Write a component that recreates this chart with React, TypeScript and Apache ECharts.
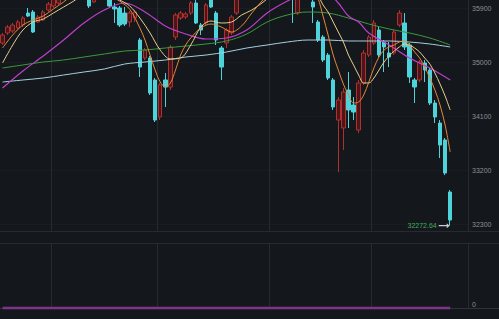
import React, { useEffect, useRef } from "react";
import * as echarts from "echarts";

// ---------- data ----------
const slotCount = 92; // 89 trading days + 3 empty slots on the right
const dayLabels = Array.from({ length: slotCount }, (_, i) => `D${i + 1}`);
const monthStartIdx = [10, 31, 53, 73];

const priceMin = 32167;
const priceMax = 36033;
const tickMin = 32300;
const tickMax = 35900;
const tickStep = 900;

// [open, close, lowest, highest]
const candles: number[][] = [
  [35316, 35450, 35283, 35483],
  [35483, 35583, 35450, 35616],
  [35516, 35616, 35483, 35650],
  [35566, 35666, 35533, 35700],
  [35616, 35733, 35583, 35766],
  [35816, 35766, 35750, 35900],
  [35833, 35500, 35483, 35866],
  [35666, 35750, 35650, 35783],
  [35700, 35833, 35683, 35866],
  [35866, 35966, 35833, 36000],
  [35933, 36066, 35900, 36100],
  [35983, 36116, 35950, 36150],
  [36100, 36180, 36050, 36220],
  [36190, 36260, 36150, 36300],
  [36250, 36210, 36170, 36290],
  [36220, 36300, 36190, 36340],
  [36290, 36250, 36200, 36330],
  [36116, 35933, 35900, 36166],
  [36000, 36120, 35990, 36160],
  [36110, 36180, 36060, 36220],
  [36180, 36140, 36070, 36230],
  [36166, 35933, 35916, 36200],
  [35916, 35883, 35650, 35983],
  [35900, 35616, 35583, 35933],
  [35816, 35633, 35600, 35916],
  [35666, 35816, 35583, 35850],
  [35733, 35833, 35666, 35866],
  [35366, 34916, 34750, 35400],
  [35066, 35200, 35033, 35233],
  [35066, 34483, 34450, 35100],
  [34700, 34033, 34000, 34733],
  [34083, 34616, 34033, 34650],
  [34700, 34583, 34250, 34816],
  [34583, 35250, 34533, 35283],
  [35416, 35783, 35366, 35816],
  [35733, 35816, 35700, 35850],
  [35750, 35800, 35716, 35833],
  [35816, 35983, 35783, 36016],
  [35983, 35650, 35633, 36033],
  [35616, 35533, 35450, 35650],
  [35650, 35950, 35616, 35983],
  [36083, 35916, 35900, 36133],
  [35816, 35366, 35283, 35850],
  [35233, 34916, 34700, 35266],
  [35316, 35533, 35233, 35566],
  [35483, 35750, 35450, 35783],
  [35816, 36083, 35783, 36116],
  [36090, 36180, 36060, 36230],
  [36170, 36250, 36130, 36290],
  [36240, 36200, 36150, 36280],
  [36210, 36300, 36180, 36340],
  [36290, 36360, 36250, 36400],
  [36350, 36310, 36260, 36400],
  [36300, 36380, 36270, 36420],
  [36370, 36330, 36280, 36410],
  [36320, 36400, 36290, 36440],
  [36390, 36350, 36300, 36430],
  [36350, 36120, 35650, 36380],
  [35816, 36200, 35783, 36250],
  [36190, 36280, 36150, 36320],
  [36270, 36160, 36100, 36300],
  [36000, 35916, 35650, 36083],
  [35666, 35366, 35333, 35700],
  [35416, 35033, 35000, 35450],
  [35116, 34733, 34700, 35150],
  [34700, 34250, 34200, 34733],
  [34033, 34366, 33166, 34416],
  [33900, 34500, 33533, 34566],
  [34533, 34200, 33900, 34833],
  [34283, 34166, 34033, 34416],
  [33866, 34650, 33816, 34700],
  [34650, 35150, 34616, 35200],
  [35116, 35416, 35083, 35450],
  [35316, 35650, 35283, 35700],
  [35533, 35116, 35083, 35583],
  [35333, 35250, 34833, 35366],
  [35150, 35083, 34916, 35333],
  [35150, 35500, 35116, 35533],
  [35616, 35816, 35583, 35866],
  [35650, 35250, 35200, 35816],
  [35283, 34750, 34650, 35316],
  [34700, 34583, 34316, 34733],
  [34700, 35000, 34666, 35033],
  [34983, 34866, 34666, 35033],
  [34866, 34316, 34283, 34900],
  [34316, 34083, 33983, 34366],
  [33983, 33616, 33400, 34033],
  [33700, 33150, 33116, 33733],
  [32833, 32366, 32272.64, 32866],
];

// moving-average lines: [dayIndex, price]
const ma5: number[][] = [
  [0, 35233], [2, 35450], [4, 35616], [6, 35700], [8, 35766], [10, 35883], [12, 36000],
  [14, 36133], [16, 36233], [18, 36233], [20, 36200], [22, 36066], [23, 36016], [25, 35880],
  [27, 35566], [28, 35366], [29, 35116], [30, 34866], [31, 34666], [32, 34583], [33, 34650],
  [34, 34866], [35, 35116], [36, 35283], [37, 35400], [39, 35566], [41, 35633], [43, 35583],
  [45, 35500], [47, 35600], [49, 35816], [51, 36016], [53, 36200], [56, 36366], [59, 36366],
  [61, 36233], [62, 36066], [63, 35766], [64, 35450], [65, 35116], [66, 34866], [67, 34633],
  [68, 34450], [69, 34316], [70, 34333], [71, 34450], [72, 34666], [73, 34900], [74, 35083],
  [75, 35200], [76, 35250], [77, 35283], [78, 35333], [79, 35350], [80, 35283], [81, 35166],
  [82, 35066], [83, 34916], [84, 34733], [85, 34533], [86, 34283], [87, 33950], [88, 33500],
];
const ma10: number[][] = [
  [0, 34983], [2, 35283], [4, 35533], [6, 35666], [8, 35716], [10, 35816], [12, 35916],
  [14, 36016], [16, 36133], [18, 36233], [20, 36166], [21, 36116], [23, 36033], [25, 35933],
  [27, 35733], [29, 35483], [31, 35200], [33, 35050], [35, 35066], [37, 35283], [39, 35583],
  [41, 35683], [43, 35650], [45, 35666], [47, 35783], [49, 35866], [51, 35983], [53, 36116],
  [56, 36283], [59, 36333], [61, 36233], [62, 36116], [63, 35950], [64, 35833], [65, 35666],
  [66, 35500], [67, 35333], [68, 35116], [69, 34950], [70, 34783], [71, 34650], [72, 34650],
  [73, 34733], [74, 34866], [75, 35000], [76, 35100], [77, 35183], [78, 35250], [79, 35300],
  [80, 35283], [81, 35233], [82, 35166], [83, 35066], [84, 34966], [85, 34816], [86, 34633],
  [87, 34433], [88, 34200],
];
const ma20: number[][] = [
  [0, 34566], [4, 34850], [8, 35100], [12, 35366], [16, 35650], [20, 35866], [24, 35983],
  [28, 35833], [32, 35600], [36, 35466], [40, 35383], [44, 35400], [48, 35533], [52, 35816],
  [56, 36016], [60, 36166], [64, 36133], [66, 35983], [68, 35766], [70, 35666], [72, 35483],
  [76, 35283], [80, 35066], [84, 34900], [88, 34700],
];
const ma60: number[][] = [
  [0, 34900], [4, 34950], [8, 35000], [12, 35033], [16, 35083], [20, 35133], [24, 35183],
  [28, 35200], [32, 35233], [36, 35266], [40, 35300], [44, 35350], [48, 35466], [52, 35666],
  [56, 35783], [60, 35833], [64, 35816], [68, 35733], [72, 35633], [76, 35550], [80, 35483],
  [84, 35400], [88, 35283],
];
const ma120: number[][] = [
  [0, 34666], [4, 34700], [8, 34733], [12, 34783], [16, 34833], [20, 34883], [24, 34966],
  [28, 35000], [32, 35033], [36, 35083], [40, 35116], [44, 35166], [48, 35233], [52, 35283],
  [56, 35333], [60, 35366], [64, 35366], [68, 35350], [72, 35350], [76, 35350], [80, 35333],
  [84, 35300], [88, 35250],
];

// lower panel indicator (flat at zero)
const lowerValues = [
  0, 0, 0, 0, 0, 0, 0, 0, 0, 0, 0, 0, 0, 0, 0, 0, 0, 0, 0, 0, 0, 0, 0, 0, 0, 0, 0, 0, 0, 0,
  0, 0, 0, 0, 0, 0, 0, 0, 0, 0, 0, 0, 0, 0, 0, 0, 0, 0, 0, 0, 0, 0, 0, 0, 0, 0, 0, 0, 0, 0,
  0, 0, 0, 0, 0, 0, 0, 0, 0, 0, 0, 0, 0, 0, 0, 0, 0, 0, 0, 0, 0, 0, 0, 0, 0, 0, 0, 0, 0,
];

// ---------- styles ----------
const BG = "#14171c";
const GRID_LINE = "#262a31";
const LABEL = "#8b9099";
const FONT = "'Liberation Sans', Arial, sans-serif";

export default function App() {
  const ref = useRef<HTMLDivElement>(null);

  useEffect(() => {
    if (!ref.current) return;
    const chart = echarts.init(ref.current, undefined, { renderer: "svg" });

    const maLine = (data: number[][], color: string, width = 1) => ({
      type: "line",
      xAxisIndex: 0,
      yAxisIndex: 0,
      data,
      smooth: 0.35,
      symbol: "none",
      showSymbol: false,
      clip: true,
      z: 3,
      lineStyle: { color, width },
      silent: true,
    });

    chart.setOption({
      animation: false,
      backgroundColor: BG,
      textStyle: { fontFamily: FONT },
      grid: [
        { left: 0, right: 31, top: 0, bottom: 87 },
        { left: 0, right: 31, top: 243, bottom: 11 },
        { left: 0, right: 31, top: 8, bottom: 95 },
      ],
      xAxis: [
        {
          type: "category",
          gridIndex: 0,
          data: dayLabels,
          boundaryGap: true,
          axisLine: { show: false },
          axisTick: { show: false },
          axisLabel: { show: false },
          splitLine: {
            show: true,
            interval: (i: number) => monthStartIdx.includes(i),
            lineStyle: { color: GRID_LINE, width: 1 },
          },
        },
        {
          type: "category",
          gridIndex: 1,
          data: dayLabels,
          boundaryGap: true,
          axisLine: { show: false },
          axisTick: { show: false },
          axisLabel: { show: false },
          splitLine: {
            show: true,
            interval: (i: number) => monthStartIdx.includes(i),
            lineStyle: { color: GRID_LINE, width: 1 },
          },
        },
        { type: "value", gridIndex: 2, show: false, min: 0, max: 1 },
      ],
      yAxis: [
        {
          type: "value",
          gridIndex: 0,
          position: "right",
          min: priceMin,
          max: priceMax,
          axisLine: { show: true, lineStyle: { color: GRID_LINE } },
          axisTick: { show: false },
          axisLabel: { show: false },
          splitLine: { show: false },
        },
        {
          type: "value",
          gridIndex: 1,
          position: "right",
          min: 0,
          max: 1,
          interval: 1,
          axisLine: { show: true, lineStyle: { color: GRID_LINE } },
          axisTick: { show: false },
          axisLabel: {
            color: LABEL,
            fontSize: 7,
            margin: 4,
            verticalAlign: "bottom",
            fontFamily: FONT,
            formatter: (v: number) => (v === 0 ? "0" : ""),
          },
          splitLine: { show: false },
        },
        {
          type: "value",
          gridIndex: 2,
          position: "right",
          min: tickMin,
          max: tickMax,
          interval: tickStep,
          axisLine: { show: false },
          axisTick: { show: false },
          axisLabel: {
            color: LABEL,
            fontSize: 7,
            margin: 4,
            fontFamily: FONT,
            formatter: (v: number) => String(v),
          },
          splitLine: { show: true, lineStyle: { color: "#191c22" } },
        },
      ],
      graphic: [
        { type: "line", shape: { x1: 0, y1: 231.5, x2: 499, y2: 231.5 }, style: { stroke: GRID_LINE, lineWidth: 1 }, silent: true },
        { type: "line", shape: { x1: 0, y1: 243.5, x2: 499, y2: 243.5 }, style: { stroke: GRID_LINE, lineWidth: 1 }, silent: true },
        { type: "line", shape: { x1: 0, y1: 308.5, x2: 499, y2: 308.5 }, style: { stroke: "#2e3239", lineWidth: 1 }, silent: true, z: -1 },
      ],
      series: [
        {
          type: "candlestick",
          xAxisIndex: 0,
          yAxisIndex: 0,
          data: candles,
          barWidth: 4,
          clip: true,
          z: 2,
          itemStyle: {
            color: "#4a1619",
            borderColor: "#b0302e",
            color0: "#4ed3db",
            borderColor0: "#4ed3db",
            borderWidth: 1,
          },
          markPoint: {
            symbol: "path://M0,3.4 L8,3.4 L8,1.2 L11,4 L8,6.8 L8,4.6 L0,4.6 Z",
            symbolSize: [11, 5],
            symbolKeepAspect: false,
            symbolOffset: [-6, 0],
            itemStyle: { color: "#c9ccd2" },
            label: {
              show: true,
              position: "left",
              distance: 2,
              color: "#3fae5a",
              fontSize: 7,
              fontFamily: FONT,
              formatter: (p: any) => Number(p.value).toFixed(2),
            },
            data: [{ type: "min", valueDim: "lowest" }],
          },
        },
        maLine(ma120, "#a6cfdf"),
        maLine(ma60, "#3a9a3c"),
        maLine(ma20, "#bf3fcc", 1.2),
        maLine(ma10, "#e6d08c"),
        maLine(ma5, "#e5883c"),
        {
          type: "line",
          xAxisIndex: 1,
          yAxisIndex: 1,
          data: lowerValues,
          symbol: "none",
          showSymbol: false,
          clip: false,
          z: 3,
          lineStyle: { color: "#7e3588", width: 2.5 },
          silent: true,
        },
      ],
    });

    return () => chart.dispose();
  }, []);

  return (
    <div
      ref={ref}
      style={{ position: "fixed", left: 0, top: 0, width: 499, height: 319, background: BG }}
    />
  );
}
